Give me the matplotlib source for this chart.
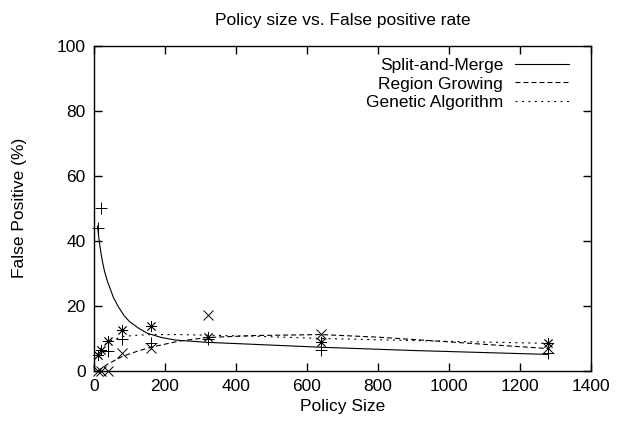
import matplotlib
matplotlib.use("Agg")
import matplotlib.pyplot as plt

plt.rcParams['font.family'] = ['Liberation Sans', 'DejaVu Sans']

# measured points
sizes = [10, 20, 40, 80, 160, 320, 640, 1280]
split_pts = [44, 50, 6.2, 9.8, 8.6, 9.9, 6.4, 5.4]
region_pts = [0, 0, 0, 5.6, 7.2, 17.3, 11.3, 7.0]
genetic_pts = [4.9, 6.4, 9.3, 12.7, 13.7, 10.6, 9.0, 8.7]

# fitted curves
split_fx = [10, 13, 16, 20, 25, 30, 38, 45, 55, 70, 85, 100, 125, 150, 190, 230, 320, 450, 640, 900, 1280]
split_fy = [44.5, 41.5, 39, 36, 33, 30.5, 27.5, 25.5, 22.5, 19.5, 17, 15.2, 13.2, 11.6, 10.3, 9.5, 8.8, 8.2, 7.3, 6.3, 5.1]
region_fx = [10, 40, 80, 120, 160, 240, 320, 450, 640, 800, 967, 1100, 1280]
region_fy = [0, 2.2, 4.5, 6.0, 7.3, 9.2, 10.3, 10.9, 11.2, 10.4, 9.2, 8.2, 6.9]
genetic_fx = [10, 20, 40, 80, 120, 160, 240, 320, 450, 640, 967, 1280]
genetic_fy = [5.0, 7.0, 9.0, 10.6, 11.0, 11.2, 11.2, 11.0, 10.7, 10.0, 9.2, 8.5]

fig = plt.figure(figsize=(6.18, 4.30), dpi=100)
ax = fig.add_axes([0.1521, 0.1372, 0.8042, 0.7565])

ax.plot(split_fx, split_fy, color='black', lw=0.8, label='Split-and-Merge')
ax.plot(region_fx, region_fy, color='black', lw=0.8, dashes=(4.5, 2.7), label='Region Growing')
ax.plot(genetic_fx, genetic_fy, color='black', lw=0.8, dashes=(1.8, 4), label='Genetic Algorithm')

ax.plot(sizes, split_pts, ls='none', marker='+', ms=8, mew=0.7, color='black', clip_on=False)
ax.plot(sizes, region_pts, ls='none', marker='x', ms=7, mew=0.7, color='black', clip_on=False)
ax.plot(sizes, genetic_pts, ls='none', marker=(8, 2, 0), ms=8, mew=0.6, color='black', clip_on=False)

ax.set_xlim(0, 1400)
ax.set_ylim(0, 100)
ax.set_xticks(range(0, 1401, 200))
ax.set_yticks(range(0, 101, 20))
ax.tick_params(direction='in', length=6, width=1, top=True, right=True, labelsize=12.5, pad=6)
for s in ax.spines.values():
    s.set_linewidth(1)

ax.set_title('Policy size vs. False positive rate', fontsize=12.5, pad=15)
ax.set_xlabel('Policy Size', fontsize=12.5, labelpad=3)
ax.set_ylabel('False Positive (%)', fontsize=12.5, labelpad=21)

ax.legend(loc='upper right', bbox_to_anchor=(0.956, 0.962), frameon=False, markerfirst=False,
          fontsize=12.5, handlelength=3.1, handletextpad=0.7, labelspacing=0.18,
          borderaxespad=0, borderpad=0)

fig.savefig('out.png', dpi=100)
